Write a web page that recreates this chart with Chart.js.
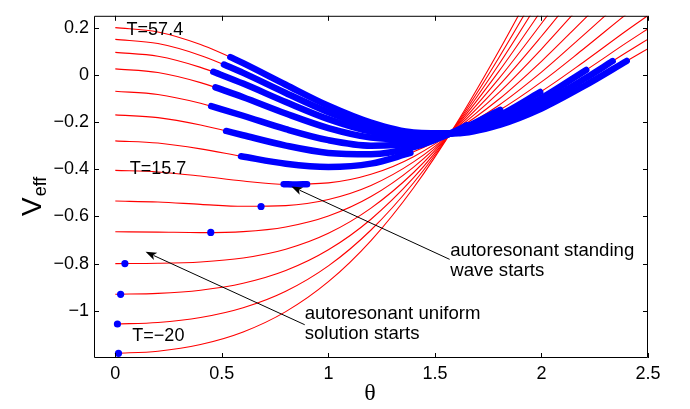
<!DOCTYPE html>
<html>
<head>
<meta charset="utf-8">
<title>V_eff(theta)</title>
<script src="https://cdn.jsdelivr.net/npm/chart.js@4.4.1/dist/chart.umd.min.js"></script>
<style>
  html, body { margin: 0; padding: 0; background: #fff; }
  canvas { display: block; }
</style>
</head>
<body>
<canvas id="chart" width="690" height="409"></canvas>
<script>
// theta samples shared by all the potential curves
const theta = [0, 0.2, 0.4, 0.6, 0.8, 1.0, 1.2, 1.4, 1.6, 1.8, 2.0, 2.2, 2.4, 2.5];

// V_eff(theta), one curve per T (top one is T=57.4, bottom one T=-20)
const V1  = [0.200, 0.1813, 0.1281, 0.0493, -0.0421, -0.1311, -0.2025, -0.2441, -0.2481, -0.2128, -0.1426, -0.0474, 0.0587, 0.1110];
const V2  = [0.150, 0.1323, 0.0821, 0.0081, -0.0770, -0.1581, -0.2206, -0.2526, -0.2467, -0.2015, -0.1218, -0.0180, 0.0956, 0.1510];
const V3  = [0.095, 0.0784, 0.0314, -0.0373, -0.1153, -0.1878, -0.2405, -0.2619, -0.2450, -0.1890, -0.0989, 0.0144, 0.1362, 0.1951];
const V4  = [0.025, 0.0098, -0.0331, -0.0951, -0.1641, -0.2256, -0.2659, -0.2738, -0.2430, -0.1731, -0.0698, 0.0556, 0.1878, 0.2512];
const V5  = [-0.070, -0.0834, -0.1206, -0.1735, -0.2303, -0.2769, -0.3003, -0.2899, -0.2402, -0.1515, -0.0302, 0.1115, 0.2578, 0.3273];
const V6  = [-0.170, -0.1814, -0.2127, -0.2561, -0.2999, -0.3310, -0.3365, -0.3069, -0.2373, -0.1288, 0.0114, 0.1703, 0.3316, 0.4074];
const V7  = [-0.280, -0.2892, -0.3140, -0.3468, -0.3766, -0.3904, -0.3764, -0.3256, -0.2341, -0.1038, 0.0572, 0.2351, 0.4127, 0.4955];
const V8  = [-0.405, -0.4117, -0.4291, -0.4500, -0.4637, -0.4579, -0.4217, -0.3469, -0.2304, -0.0754, 0.1092, 0.3086, 0.5049, 0.5957];
const V9  = [-0.535, -0.5391, -0.5489, -0.5573, -0.5542, -0.5282, -0.4688, -0.3690, -0.2267, -0.0458, 0.1633, 0.3851, 0.6007, 0.6998];
const V10 = [-0.665, -0.6665, -0.6686, -0.6646, -0.6448, -0.5984, -0.5159, -0.3911, -0.2229, -0.0163, 0.2174, 0.4617, 0.6966, 0.8040];
const V11 = [-0.800, -0.7988, -0.7929, -0.7760, -0.7389, -0.6714, -0.5648, -0.4140, -0.2189, 0.0144, 0.2736, 0.5411, 0.7961, 0.9121];
const V12 = [-0.930, -0.9262, -0.9127, -0.8833, -0.8294, -0.7416, -0.6119, -0.4361, -0.2151, 0.0439, 0.3277, 0.6176, 0.8920, 1.0163];
const V13 = [-1.056, -1.0497, -1.0287, -0.9873, -0.9172, -0.8097, -0.6576, -0.4575, -0.2114, 0.0725, 0.3801, 0.6918, 0.9849, 1.1172];
const V14 = [-1.180, -1.1712, -1.1429, -1.0897, -1.0036, -0.8767, -0.7025, -0.4786, -0.2078, 0.1007, 0.4317, 0.7647, 1.0763, 1.2166];
const curves = [V1, V2, V3, V4, V5, V6, V7, V8, V9, V10, V11, V12, V13, V14];

// autoresonant standing wave: thick blue stretch on the first seven curves
const blueFrom  = [0.54, 0.51, 0.46, 0.47, 0.45, 0.52, 0.59];
const blueFromV = [0.0750, 0.0436, 0.0126, -0.0532, -0.1327, -0.2379, -0.3452];
const blueTo    = [2.40, 2.334, 2.21, 1.994, 1.806, 1.65, 1.385];
const blueToV   = [0.0587, 0.0580, 0.0204, -0.0730, -0.1483, -0.2136, -0.3310];

// short start piece on the T=15.7 curve
const startTheta = [0.79, 0.85, 0.90];
const startV     = [-0.4633, -0.4645, -0.4640];

// starting points on the lower curves
const dotTheta = [0.684, 0.448, 0.045, 0.025, 0.010, 0.015];
const dotV     = [-0.558, -0.668, -0.800, -0.930, -1.056, -1.180];

// axis ticks
const xTicks = [0, 0.5, 1, 1.5, 2, 2.5];
const xTickLabels = ['0', '0.5', '1', '1.5', '2', '2.5'];
const yTicks = [-1, -0.8, -0.6, -0.4, -0.2, 0, 0.2];
const yTickLabels = ['\u22121', '\u22120.8', '\u22120.6', '\u22120.4', '\u22120.2', '0', '0.2'];

// T labels and the two notes with their arrows (data units)
const tLabels = ['T=57.4', 'T=15.7', 'T=\u221220'];
const tLabelAt = [[0.053, 0.168], [0.068, -0.422], [0.080, -1.128]];
const noteLines = [['autoresonant standing', 'wave starts'], ['autoresonant uniform', 'solution starts']];
const noteAt = [[1.572, -0.768], [0.889, -1.035]];
const arrowTail = [[1.569, -0.782], [0.889, -1.059]];
const arrowTip  = [[0.8265, -0.473], [0.142, -0.750]];

const RED = '#ff0000';
const BLUE = '#0000ff';
const FONT = '"Liberation Sans", Arial, Helvetica, sans-serif';

function toPoints(xs, ys) {
    return xs.map((x, i) => ({ x: x, y: ys[i] }));
}

const datasets = [];

curves.forEach(v => {
    datasets.push({
        data: toPoints(theta, v),
        borderColor: RED,
        borderWidth: 1.1,
        pointRadius: 0,
        cubicInterpolationMode: 'monotone',
        clip: 0,
        order: 2
    });
});

blueFrom.forEach((from, i) => {
    const v = curves[i];
    const pts = [{ x: from, y: blueFromV[i] }];
    theta.forEach((t, k) => {
        if (t > from + 0.01 && t < blueTo[i] - 0.01) pts.push({ x: t, y: v[k] });
    });
    pts.push({ x: blueTo[i], y: blueToV[i] });
    datasets.push({
        data: pts,
        borderColor: BLUE,
        borderWidth: 6.5,
        borderCapStyle: 'round',
        borderJoinStyle: 'round',
        pointRadius: 0,
        cubicInterpolationMode: 'monotone',
        clip: 4,
        order: 1
    });
});

datasets.push({
    data: toPoints(startTheta, startV),
    borderColor: BLUE,
    borderWidth: 6.5,
    borderCapStyle: 'round',
    pointRadius: 0,
    cubicInterpolationMode: 'monotone',
    order: 1
});

datasets.push({
    data: toPoints(dotTheta, dotV),
    showLine: false,
    pointRadius: 3.6,
    pointBackgroundColor: BLUE,
    pointBorderWidth: 0,
    clip: 6,
    order: 1
});

// box with inward ticks on all four sides
const axesBox = {
    id: 'axesBox',
    afterDatasetsDraw(chart) {
        const { ctx, chartArea: a, scales: { x, y } } = chart;
        ctx.save();
        ctx.strokeStyle = '#000';
        ctx.lineWidth = 1;
        ctx.beginPath();
        ctx.rect(a.left + 0.5, a.top + 0.5, a.right - a.left - 1, a.bottom - a.top - 1);
        const len = 5;
        xTicks.forEach(v => {
            const px = Math.round(x.getPixelForValue(v)) + 0.5;
            ctx.moveTo(px, a.bottom); ctx.lineTo(px, a.bottom - len);
            ctx.moveTo(px, a.top); ctx.lineTo(px, a.top + len);
        });
        yTicks.forEach(v => {
            const py = Math.round(y.getPixelForValue(v)) + 0.5;
            ctx.moveTo(a.left, py); ctx.lineTo(a.left + len, py);
            ctx.moveTo(a.right, py); ctx.lineTo(a.right - len, py);
        });
        ctx.stroke();
        ctx.restore();
    }
};

// T labels, notes, arrows and axis titles
const notes = {
    id: 'notes',
    afterDraw(chart) {
        const { ctx, chartArea: a, scales: { x, y } } = chart;
        ctx.save();
        ctx.fillStyle = '#000';
        ctx.strokeStyle = '#000';
        ctx.font = '18px ' + FONT;
        ctx.textBaseline = 'alphabetic';
        ctx.textAlign = 'left';

        tLabels.forEach((txt, i) => {
            ctx.fillText(txt, x.getPixelForValue(tLabelAt[i][0]), y.getPixelForValue(tLabelAt[i][1]));
        });

        ctx.font = '18.6px ' + FONT;
        noteLines.forEach((lines, i) => {
            const px = x.getPixelForValue(noteAt[i][0]);
            const py = y.getPixelForValue(noteAt[i][1]);
            lines.forEach((ln, k) => ctx.fillText(ln, px, py + k * 20));
        });

        arrowTail.forEach((tail, i) => {
            const x0 = x.getPixelForValue(tail[0]), y0 = y.getPixelForValue(tail[1]);
            const x1 = x.getPixelForValue(arrowTip[i][0]), y1 = y.getPixelForValue(arrowTip[i][1]);
            const ang = Math.atan2(y1 - y0, x1 - x0);
            const hl = 11, hw = 4;
            ctx.lineWidth = 1;
            ctx.beginPath();
            ctx.moveTo(x0, y0);
            ctx.lineTo(x1 - Math.cos(ang) * hl * 0.8, y1 - Math.sin(ang) * hl * 0.8);
            ctx.stroke();
            ctx.beginPath();
            ctx.moveTo(x1, y1);
            ctx.lineTo(x1 - Math.cos(ang) * hl - Math.sin(ang) * hw, y1 - Math.sin(ang) * hl + Math.cos(ang) * hw);
            ctx.lineTo(x1 - Math.cos(ang) * hl * 0.75, y1 - Math.sin(ang) * hl * 0.75);
            ctx.lineTo(x1 - Math.cos(ang) * hl + Math.sin(ang) * hw, y1 - Math.sin(ang) * hl - Math.cos(ang) * hw);
            ctx.closePath();
            ctx.fill();
        });

        // x title
        ctx.font = '24px "Liberation Serif", "Times New Roman", serif';
        ctx.textAlign = 'center';
        ctx.fillText('\u03b8', (a.left + a.right) / 2 - 1, 400);

        // y title V_eff, rotated
        ctx.translate(41, 216);
        ctx.rotate(-Math.PI / 2);
        ctx.textAlign = 'left';
        ctx.font = '28px ' + FONT;
        ctx.fillText('V', 0, 0);
        const w = ctx.measureText('V').width;
        ctx.font = '18px ' + FONT;
        ctx.fillText('eff', w + 1, 5);
        ctx.restore();
    }
};

const chart = new Chart(document.getElementById('chart'), {
    type: 'line',
    data: { datasets: datasets },
    options: {
        responsive: false,
        devicePixelRatio: 1,
        animation: false,
        layout: { padding: { left: 0, right: 42, top: 6, bottom: 0 } },
        plugins: { legend: { display: false }, tooltip: { enabled: false } },
        scales: {
            x: {
                type: 'linear',
                min: -0.1,
                max: 2.5,
                grid: { display: false, drawTicks: false, tickLength: 0 },
                border: { display: false },
                afterBuildTicks: s => { s.ticks = xTicks.map(v => ({ value: v })); },
                afterFit: s => { s.height = 51; },
                ticks: {
                    padding: 5,
                    color: '#000',
                    font: { family: FONT, size: 18 },
                    maxRotation: 0,
                    callback: (val, i) => xTickLabels[i]
                }
            },
            y: {
                type: 'linear',
                min: -1.2,
                max: 0.25,
                grid: { display: false, drawTicks: false, tickLength: 0 },
                border: { display: false },
                afterBuildTicks: s => { s.ticks = yTicks.map(v => ({ value: v })); },
                afterFit: s => { s.width = 94; },
                ticks: {
                    padding: 5,
                    color: '#000',
                    font: { family: FONT, size: 18 },
                    callback: (val, i) => yTickLabels[i]
                }
            }
        }
    },
    plugins: [axesBox, notes]
});
</script>
</body>
</html>
